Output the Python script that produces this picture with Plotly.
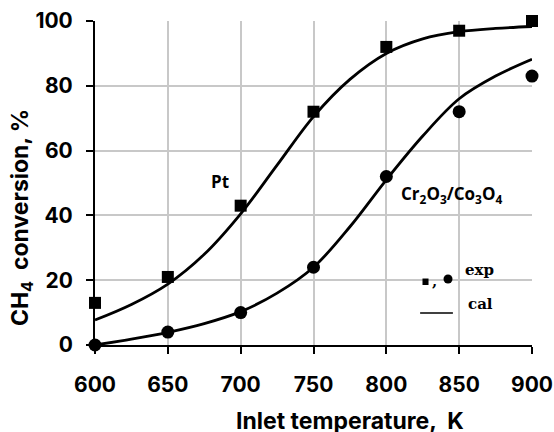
import plotly.graph_objects as go

# Measured conversion (%) at each inlet temperature (K)
temps = [600, 650, 700, 750, 800, 850, 900]
pt_exp = [13, 21, 43, 72, 92, 97, 100]
cr_exp = [0, 4, 10, 24, 52, 72, 83]

# Model curves (%)
temps_cal = [600, 625, 650, 675, 700, 725, 750, 775, 800, 825, 850, 875, 900]
pt_cal = [7.7, 12.5, 18.8, 28, 40.5, 55.5, 70.5, 82, 90, 94.5, 96.7, 97.7, 98.3]
cr_cal = [0, 1.8, 3.9, 6.6, 10.3, 16, 24, 36.5, 51, 64.5, 76, 83, 88.2]

x_ticks = [600, 650, 700, 750, 800, 850, 900]
y_ticks = [0, 20, 40, 60, 80, 100]

fig = go.Figure()
fig.add_trace(go.Scatter(x=temps_cal, y=pt_cal, mode="lines",
                         line=dict(color="black", width=2.8, shape="spline"),
                         showlegend=False))
fig.add_trace(go.Scatter(x=temps_cal, y=cr_cal, mode="lines",
                         line=dict(color="black", width=2.8, shape="spline"),
                         showlegend=False))
fig.add_trace(go.Scatter(x=temps, y=pt_exp, mode="markers",
                         marker=dict(symbol="square", size=12, color="black"),
                         showlegend=False, cliponaxis=False))
fig.add_trace(go.Scatter(x=temps, y=cr_exp, mode="markers",
                         marker=dict(symbol="circle", size=13, color="black"),
                         showlegend=False, cliponaxis=False))

# Series labels
label_font = dict(family="Open Sans", size=17, weight=700, color="black")
fig.add_annotation(x=686, y=50.5, text="Pt", showarrow=False, font=label_font)
fig.add_annotation(x=845, y=46.3,
                   text="Cr<sub>2</sub>O<sub>3</sub>/Co<sub>3</sub>O<sub>4</sub>",
                   showarrow=False, font=label_font)

# Key: symbols, comma, labels and line sample
key_font = dict(family="DejaVu Serif", size=15, weight=700, color="black")
fig.add_shape(type="rect", xref="paper", yref="paper",
              x0=0.7494, x1=0.7632, y0=0.1852, y1=0.2052,
              fillcolor="black", line=dict(width=0))
fig.add_shape(type="circle", xref="paper", yref="paper",
              x0=0.7975, x1=0.8181, y0=0.1898, y1=0.2176,
              fillcolor="black", line=dict(width=0))
fig.add_annotation(x=0.766, y=0.232, xref="paper", yref="paper", xanchor="left",
                   yanchor="top", text=",", showarrow=False, font=key_font)
fig.add_annotation(x=0.842, y=0.196, xref="paper", yref="paper", xanchor="left",
                   text="exp", showarrow=False, font=key_font)
fig.add_annotation(x=0.849, y=0.094, xref="paper", yref="paper", xanchor="left",
                   text="cal", showarrow=False, font=key_font)
fig.add_shape(type="line", xref="paper", yref="paper",
              x0=0.744, x1=0.819, y0=0.0988, y1=0.0988,
              line=dict(color="black", width=1.6))

# Axis titles
title_font = dict(family="Inter", size=23, weight=700, color="black")
fig.add_annotation(x=0.5835, y=-0.234, xref="paper", yref="paper",
                   xanchor="center", yanchor="middle",
                   text="Inlet temperature,  K", showarrow=False, font=title_font)
fig.add_annotation(x=-0.168, y=0.3935, xref="paper", yref="paper", textangle=-90,
                   xanchor="center", yanchor="middle",
                   text="CH<sub>4</sub>  conversion, %", showarrow=False,
                   font=title_font)

axis_common = dict(
    showgrid=True, gridcolor="#c8c8c8", gridwidth=1.5,
    showline=True, linecolor="black", linewidth=2,
    ticks="outside", ticklen=7, tickwidth=2, tickcolor="black",
    tickfont=dict(size=21, family="Inter", weight=700),
    zeroline=False, automargin=False,
)

fig.update_layout(
    width=554, height=432,
    margin=dict(l=95, r=22, t=21, b=87),
    paper_bgcolor="white", plot_bgcolor="white",
    font=dict(family="Inter", color="black"),
    xaxis=dict(range=[600, 900], tickvals=x_ticks, ticklabelstandoff=13,
               **axis_common),
    yaxis=dict(range=[0, 100], tickvals=y_ticks, ticklabelstandoff=9,
               **axis_common),
)

fig.write_html("out.html")
